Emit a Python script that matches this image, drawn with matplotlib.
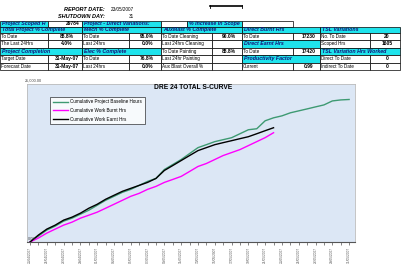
import matplotlib
matplotlib.use('Agg')
import matplotlib.pyplot as plt
import numpy as np
import pandas as pd

plt.rcParams['font.family'] = ['Liberation Sans', 'DejaVu Sans']

# report header
report_date = "23/05/2007"
shutdown_day = "31"

# table contents, one list per row: (left col, right col, text, kind)
# numbers <= 10 are column indexes, bigger numbers are pixel edges
cols = [0, 48, 82, 129, 161, 212, 242, 293, 320, 370, 400]
row_edges = [20.5, 26.8, 33, 40.3, 47.6, 55, 62.6, 70]
table_rows = [
    [(0, 1, "Project Scoped H", "hdr"), (1, 2, "29784", "valr"),
     (2, 4, "Project - Direct Variations:", "hdr"), (161, 187, "", "blank"),
     (187, 242, "% Increase In Scope", "hdr"), (6, 7, "", "blank")],
    [(0, 2, "Total Project % Complete", "hdr"), (2, 4, "Mech % Complete", "hdr"),
     (4, 6, "AuxMast % Complete", "hdr"), (6, 8, "Direct Burnt Hrs", "hdr"),
     (8, 10, "TSL Variations", "hdr")],
    [(0, 1, "To Date", "lbl"), (1, 2, "88.8%", "val"), (2, 3, "To Date", "lbl"),
     (3, 4, "95.0%", "val"), (4, 5, "To Date Cleaning", "lbl"), (5, 6, "90.0%", "val"),
     (6, 7, "To Date", "lbl"), (7, 8, "17230", "val"), (8, 9, "No. To Date", "lbl"),
     (9, 10, "20", "val")],
    [(0, 1, "The Last 24Hrs", "lbl"), (1, 2, "4.0%", "val"), (2, 3, "Last 24hrs", "lbl"),
     (3, 4, "0.0%", "val"), (4, 5, "Last 24hrs Cleaning", "lbl"), (5, 6, "", "blank"),
     (6, 8, "Direct Earnt Hrs", "hdr"), (8, 9, "Scoped Hrs", "lbl"), (9, 10, "1605", "val")],
    [(0, 2, "Project Completion", "hdr"), (2, 4, "Elec % Complete", "hdr"),
     (4, 5, "To Date Painting", "lbl"), (5, 6, "88.8%", "val"), (6, 7, "To Date", "lbl"),
     (7, 8, "17420", "val"), (8, 10, "TSL Variation Hrs Worked", "hdr")],
    [(0, 1, "Target Date", "lbl"), (1, 2, "31-May-07", "val"), (2, 3, "To Date", "lbl"),
     (3, 4, "76.8%", "val"), (4, 5, "Last 24hr Painting", "lbl"), (5, 6, "", "blank"),
     (6, 8, "Productivity Factor", "hdr"), (8, 9, "Direct To Date", "lbl"), (9, 10, "0", "val")],
    [(0, 1, "Forecast Date", "lbl"), (1, 2, "31-May-07", "val"), (2, 3, "Last 24hrs", "lbl"),
     (3, 4, "0.0%", "val"), (4, 5, "Aux Blast Overall %", "lbl"), (5, 6, "", "blank"),
     (6, 7, "Current", "lbl"), (7, 8, "0.99", "val"), (8, 9, "Indirect To Date", "lbl"),
     (9, 10, "0", "val")],
]

# chart data (cumulative hours per day)
dates = pd.date_range("2007-04-23", "2007-05-31")
baseline = [0, 940, 1890, 2515, 3300, 3770, 4400, 5030, 5815, 6600, 7230, 7860, 8330,
            8960, 9590, 10060, 11475, 12260, 13050, 13990, 14930, 15400, 15880, 16190,
            16500, 17130, 17760, 17920, 19180, 19650, 19960, 20440, 20750, 21060, 21380,
            21690, 22320, 22480, 22550]
burnt = [0, 630, 1410, 2040, 2670, 3140, 3770, 4240, 4720, 5340, 5970, 6600, 7230, 7700,
         8330, 8800, 9430, 9900, 10380, 11160, 11950, 12420, 13050, 13680, 14150, 14620,
         15250, 15880, 16510, 17290]
earnt = [0, 1100, 2040, 2670, 3460, 3930, 4560, 5340, 5970, 6760, 7390, 8020, 8490, 8960,
         9430, 10060, 11320, 12100, 12890, 13680, 14460, 14930, 15400, 15720, 16030, 16350,
         16660, 17130, 17610, 18080]

cyan = '#1FE3EC'
navy = '#14147A'


def edge(v):
    return cols[v] if v <= 10 else v


fig = plt.figure(figsize=(4.01, 2.72), dpi=100)

# sheet area in pixel coordinates
tab = fig.add_axes([0, 0, 1, 1])
tab.set_xlim(0, 401)
tab.set_ylim(272, 0)
tab.axis('off')

tab.text(105, 9.5, "REPORT DATE:", fontsize=4, fontweight='bold', style='italic', ha='right', va='center')
tab.text(134, 9.5, report_date, fontsize=3.3, ha='right', va='center')
tab.text(105, 16, "SHUTDOWN DAY:", fontsize=4, fontweight='bold', style='italic', ha='right', va='center')
tab.text(134, 16, shutdown_day, fontsize=3.3, ha='right', va='center')
tab.plot([210, 242], [6, 6], color='black', lw=1.2)
tab.plot([210, 210], [4.5, 7.5], color='black', lw=0.6)
tab.plot([242, 242], [4.5, 7.5], color='black', lw=0.6)

for r, row in enumerate(table_rows):
    y0, y1 = row_edges[r], row_edges[r + 1]
    ym = (y0 + y1) / 2
    for a, b, txt, kind in row:
        x0, x1 = edge(a), edge(b)
        face = cyan if kind == 'hdr' else 'white'
        tab.add_patch(plt.Rectangle((x0, y0), x1 - x0, y1 - y0, facecolor=face,
                                    edgecolor='black', lw=0.5))
        if kind == 'hdr':
            t = tab.text(x0 + 2, ym, txt, fontsize=3.8, fontweight='bold', style='italic',
                         color=navy, ha='left', va='center')
            t.set_clip_path(plt.Rectangle((x0, y0), x1 - x0, y1 - y0, transform=tab.transData))
        elif kind == 'lbl':
            tab.text(x0 + 1, ym, txt, fontsize=3.3, ha='left', va='center')
        elif kind == 'val':
            tab.text((x0 + x1) / 2 + 2, ym, txt, fontsize=3.6, fontweight='bold', ha='center', va='center')
        elif kind == 'valr':
            tab.text(x1 - 2, ym, txt, fontsize=3.6, fontweight='bold', ha='right', va='center')

# chart
ax = fig.add_axes([27 / 401, 30 / 272, 328 / 401, 158 / 272])
ax.set_facecolor('#DCE7F5')
x_all = np.arange(len(dates))
ax.plot(x_all[:len(baseline)], baseline, color='#3E9A72', lw=1.0, label='Cumulative Project Baseline Hours')
ax.plot(x_all[:len(burnt)], burnt, color='#FF00FF', lw=1.0, label='Cumulative Work Burnt Hrs')
ax.plot(x_all[:len(earnt)], earnt, color='black', lw=1.0, label='Cumulative Work Earnt Hrs')
ax.set_xlim(-0.36, 38.7)
ax.set_ylim(0, 25000)

ax.set_xticks(x_all)
ax.set_xticklabels([d.strftime("%d/%m/%Y") if i % 2 == 0 else "" for i, d in enumerate(dates)],
                   rotation=90, fontsize=2.3, color='#555555')
ax.tick_params(axis='x', length=2, width=0.5, color='#555555', pad=1.5)
ax.set_yticks([])
for s in ['top', 'right', 'left']:
    ax.spines[s].set_color('#BBBBBB')
    ax.spines[s].set_linewidth(0.6)
ax.spines['bottom'].set_color('#555555')
ax.spines['bottom'].set_linewidth(0.8)

ax.text(0.018, 1.025, "25,000.00", transform=ax.transAxes, fontsize=2.8, ha='center', va='center',
        color='#444444', clip_on=False)
ax.text(0.003, 0.005, "0.00", transform=ax.transAxes, fontsize=2.8, ha='left', va='bottom',
        color='#444444')
ax.text(0.505, 0.975, "DRE 24 TOTAL S-CURVE", transform=ax.transAxes, fontsize=4.8,
        fontweight='bold', ha='center', va='center')

leg = ax.legend(loc='upper left', bbox_to_anchor=(0.064, 0.935), fontsize=3.3, frameon=True,
                fancybox=False, edgecolor='black', handlelength=3.2, borderpad=0.6,
                labelspacing=0.8, handletextpad=0.6)
leg.get_frame().set_linewidth(0.5)

fig.savefig('out.png', dpi=100)
